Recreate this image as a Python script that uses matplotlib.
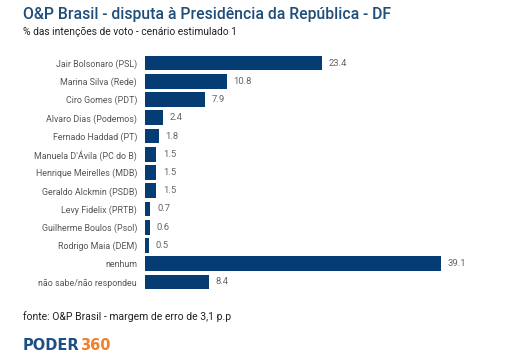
import matplotlib
matplotlib.use("Agg")
import matplotlib.pyplot as plt

plt.rcParams['font.family'] = ['Roboto', 'DejaVu Sans']

categories = ["Jair Bolsonaro (PSL)", "Marina Silva (Rede)", "Ciro Gomes (PDT)",
              "Alvaro Dias (Podemos)", "Fernado Haddad (PT)", "Manuela D'Ávila (PC do B)",
              "Henrique Meirelles (MDB)", "Geraldo Alckmin (PSDB)", "Levy Fidelix (PRTB)",
              "Guilherme Boulos (Psol)", "Rodrigo Maia (DEM)", "nenhum",
              "não sabe/não respondeu"]
values = [23.4, 10.8, 7.9, 2.4, 1.8, 1.5, 1.5, 1.5, 0.7, 0.6, 0.5, 39.1, 8.4]
value_labels = ["23.4", "10.8", "7.9", "2.4", "1.8", "1.5", "1.5", "1.5", "0.7", "0.6", "0.5", "39.1", "8.4"]

W, H = 506, 357
fig = plt.figure(figsize=(W/100, H/100), dpi=100)
fig.patch.set_facecolor('white')

left_px, right_px = 145, 480
top_px, bot_px = 53.9, 291.1
ax = fig.add_axes([left_px/W, 1-bot_px/H, (right_px-left_px)/W, (bot_px-top_px)/H])

bar_color = '#063c74'
y = list(range(len(categories)))
ax.barh(y, values, height=0.8, color=bar_color)
ax.set_ylim(len(categories)-0.5, -0.5)
ax.set_xlim(0, (right_px-left_px)/7.56)
ax.set_yticks(y)
ax.set_yticklabels(categories, fontsize=6.4, color='#555555')
ax.tick_params(axis='y', length=0, pad=5.8)
ax.set_xticks([])
for s in ax.spines.values():
    s.set_visible(False)

for yi, v, lab in zip(y, values, value_labels):
    ax.annotate(lab, (v, yi), xytext=(5, 0), textcoords='offset points',
                va='center', ha='left', fontsize=6.8, color='#666666')

fig.text(23/W, 1-15/H, "O&P Brasil - disputa à Presidência da República - DF",
         fontsize=11.3, color='#1f4e79', va='center', ha='left', fontweight='medium')
fig.text(23/W, 1-32/H, "% das intenções de voto - cenário estimulado 1",
         fontsize=7.4, color='#222222', va='center', ha='left')
fig.text(23/W, 1-317/H, "fonte: O&P Brasil - margem de erro de 3,1 p.p",
         fontsize=7.5, color='#222222', va='center', ha='left')
t1 = fig.text(23/W, 1-345/H, "PODER", fontsize=10.5, color='#1d4f85',
              va='center', ha='left', fontweight='black', family=['DejaVu Sans'])
fig.canvas.draw()
bb = t1.get_window_extent()
fig.text(bb.x1/W, 1-345/H, "360", fontsize=10.5, color='#f0812a',
         va='center', ha='left', fontweight='black', family=['DejaVu Sans'])

fig.savefig("out.png", dpi=100, facecolor='white')
